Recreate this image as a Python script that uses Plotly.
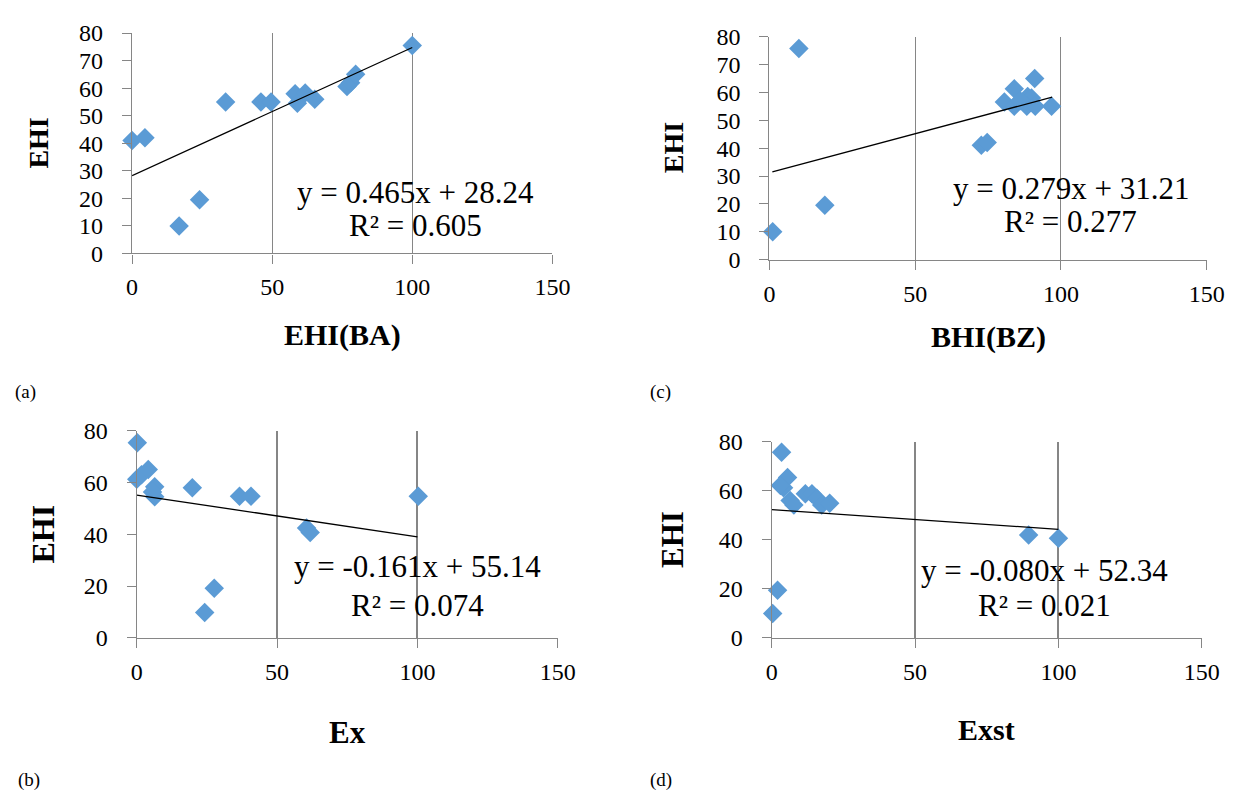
import plotly.graph_objects as go

# ---------------- data ----------------
a_x = [0, 4.6, 16.8, 24.1, 33.4, 46, 49.6, 58.2, 59, 61.8, 65.2, 76.7, 78, 79.8, 100]
a_y = [41, 42, 10, 19.5, 55, 55, 55, 58, 54.5, 58.2, 56, 60.6, 62, 65, 75.5]

b_x = [0.2, 0, 1.7, 4.1, 6.4, 6.4, 5.6, 19.8, 36.6, 40.7, 100.3, 60.5, 61.8, 24.2, 27.6]
b_y = [75.4, 61.3, 63, 65, 58.4, 54.5, 56.3, 58, 54.7, 54.7, 54.7, 42.4, 40.7, 9.8, 19.2]

c_x = [10.1, 1.1, 19, 72.7, 74.7, 80.6, 84, 84, 88.6, 89.9, 88.3, 91.2, 91, 96.8, 86]
c_y = [75.7, 10, 19.5, 41, 42, 56.5, 61.3, 55, 58.5, 58, 55, 55, 65, 55, 57]

d_x = [3.4, 5.5, 4.1, 3, 6.4, 7.7, 11.7, 14, 15.7, 17.4, 20.2, 2, 0.3, 89.6, 100]
d_y = [75.8, 65.5, 61.3, 62.2, 56.1, 54.3, 58.9, 58.9, 57, 54.3, 55, 19.4, 9.9, 42, 40.7]

slopes = [0.465, -0.161, 0.279, -0.080]
intercepts = [28.24, 55.14, 31.21, 52.34]
trend_x_start = [0, 0, 1, 0]
trend_x_end = [100, 100, 97, 100]
eq_texts = ["y = 0.465x + 28.24", "y = -0.161x + 55.14", "y = 0.279x + 31.21", "y = -0.080x + 52.34"]
r2_texts = ["R² = 0.605", "R² = 0.074", "R² = 0.277", "R² = 0.021"]
x_titles = ["EHI(BA)", "Ex", "BHI(BZ)", "Exst"]
y_titles = ["EHI", "EHI", "EHI", "EHI"]
panel_labels = ["(a)", "(b)", "(c)", "(d)"]
x_ticks = [0, 50, 100, 150]
y_ticks_top = [0, 10, 20, 30, 40, 50, 60, 70, 80]
y_ticks_bottom = [0, 20, 40, 60, 80]

# ---------------- styling / layout ----------------
W, H = 1258, 805
# pixel boxes (left, right, top, bottom) of each plot area
boxes = [
    (128.5, 557.0, 20.7, 248.5),   # (a)
    (133.3, 562.5, 431.7, 645.7),  # (b)
    (778.3, 1224.0, 24.3, 255.0),  # (c)
    (780.7, 1219.0, 443.3, 645.7), # (d)
]
eq_pos = [(101, 22.0, 10.2), (100, 27.4, 12.5), (103.4, 25.4, 13.7), (95, 27.6, 13.2)]
xtitle_y = [333, 743, 335, 740]
ytitle_x = [33, 38, 680, 680]
ytitle_size = [28, 32, 28, 31]
xtitle_size = [30, 31, 30, 30]
label_pos = [(7, 392), (10, 793), (654, 392), (654, 793)]
grid_w = [1.3, 2.0, 1.3, 1.6]

SERIF = "Liberation Serif"
GRAY = "#868686"
BLUE = "#5B9BD5"

xs = [a_x, b_x, c_x, d_x]
ys = [a_y, b_y, c_y, d_y]
yticks = [y_ticks_top, y_ticks_bottom, y_ticks_top, y_ticks_bottom]

fig = go.Figure()
annotations = []
layout_axes = {}

for i in range(4):
    n = i + 1
    xa = "x" if n == 1 else f"x{n}"
    ya = "y" if n == 1 else f"y{n}"
    l, r, t, b = boxes[i]

    fig.add_trace(go.Scatter(
        x=xs[i], y=ys[i], mode="markers", xaxis=xa, yaxis=ya,
        marker=dict(symbol="diamond", size=15, color=BLUE, line=dict(width=0)),
        cliponaxis=False, showlegend=False,
    ))
    tx = [trend_x_start[i], trend_x_end[i]]
    ty = [slopes[i] * v + intercepts[i] for v in tx]
    fig.add_trace(go.Scatter(
        x=tx, y=ty, mode="lines", xaxis=xa, yaxis=ya,
        line=dict(color="black", width=1.3), showlegend=False,
    ))

    xkey = "xaxis" if n == 1 else f"xaxis{n}"
    ykey = "yaxis" if n == 1 else f"yaxis{n}"
    layout_axes[xkey] = dict(
        domain=[l / W, r / W], anchor=ya, range=[0, 150],
        tickvals=x_ticks, ticks="outside", ticklen=9, tickwidth=1.3, tickcolor=GRAY,
        showline=True, linecolor=GRAY, linewidth=1.3,
        showgrid=True, gridcolor=GRAY, gridwidth=grid_w[i], zeroline=False,
        tickfont=dict(family=SERIF, size=24, color="black"),
        ticklabelstandoff=3,
    )
    layout_axes[ykey] = dict(
        domain=[1 - b / H, 1 - t / H], anchor=xa, range=[0, 80],
        tickvals=yticks[i], ticks="outside", ticklen=9, tickwidth=1.3, tickcolor=GRAY,
        showline=True, linecolor=GRAY, linewidth=1.3,
        showgrid=False, zeroline=False,
        tickfont=dict(family=SERIF, size=24, color="black"),
        ticklabelstandoff=14,
    )

    ex, ey1, ey2 = eq_pos[i]
    annotations.append(dict(x=ex, y=ey1, xref=xa, yref=ya, text=eq_texts[i], showarrow=False,
                            xanchor="center", yanchor="middle",
                            font=dict(family=SERIF, size=31, color="black")))
    annotations.append(dict(x=ex, y=ey2, xref=xa, yref=ya, text=r2_texts[i], showarrow=False,
                            xanchor="center", yanchor="middle",
                            font=dict(family=SERIF, size=31, color="black")))
    annotations.append(dict(x=(l + r) / 2 / W, y=1 - xtitle_y[i] / H, xref="paper", yref="paper",
                            text=f"<b>{x_titles[i]}</b>", showarrow=False,
                            xanchor="center", yanchor="middle",
                            font=dict(family=SERIF, size=xtitle_size[i], color="black")))
    annotations.append(dict(x=ytitle_x[i] / W, y=1 - (t + b) / 2 / H, xref="paper", yref="paper",
                            text=f"<b>{y_titles[i]}</b>", showarrow=False, textangle=-90,
                            xanchor="center", yanchor="middle",
                            font=dict(family=SERIF, size=ytitle_size[i], color="black")))
    lx, ly = label_pos[i]
    annotations.append(dict(x=lx / W, y=1 - ly / H, xref="paper", yref="paper",
                            text=panel_labels[i], showarrow=False,
                            xanchor="left", yanchor="middle",
                            font=dict(family=SERIF, size=19, color="black")))

fig.update_layout(
    width=W, height=H, margin=dict(l=0, r=0, t=0, b=0),
    paper_bgcolor="white", plot_bgcolor="white",
    font=dict(family=SERIF, color="black"),
    showlegend=False, annotations=annotations, **layout_axes,
)

fig.write_html(
    "out.html",
    config={"displayModeBar": False},
    post_script="document.body.style.margin='0';document.body.style.overflow='hidden';",
)
